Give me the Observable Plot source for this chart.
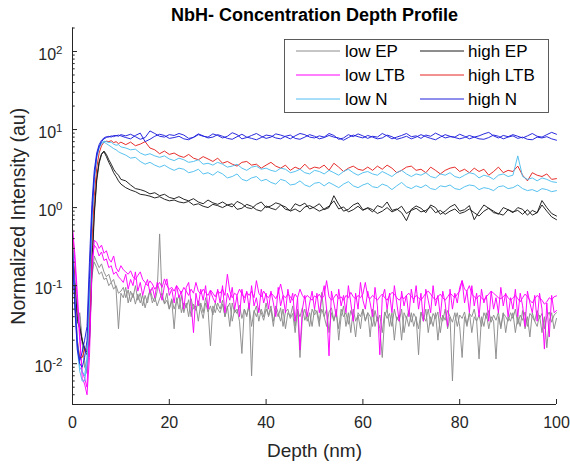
<!DOCTYPE html>
<html><head><meta charset="utf-8">
<script src="https://cdn.jsdelivr.net/npm/d3@7"></script>
<script src="https://cdn.jsdelivr.net/npm/@observablehq/plot@0.6"></script>
<style>html,body{margin:0;padding:0;background:#fff;} #chart svg{display:block;}</style>
</head><body><div id="chart"></div>
<script>
// ---- labels, categories, ticks ----
const titleText = "NbH- Concentration Depth Profile";
const xLabel = "Depth (nm)";
const yLabel = "Normalized Intensity (au)";
const seriesNames = ["low EP", "high EP", "low LTB", "high LTB", "low N", "high N"];
const seriesColors = ["#8c8c8c", "#1a1a1a", "#ff00ff", "#e42320", "#4dbeee", "#1f1fdc"];
const xTicks = [0, 20, 40, 60, 80, 100];
const yTickExps = [-2, -1, 0, 1, 2];
const yDomain = [0.003, 200];

// depth sampling: 0.5 nm everywhere (low series); 0.5 nm to 10 nm then 1 nm (high series)
const depthFine = d3.range(0, 100.25, 0.5);
const depthMixed = d3.range(0, 10.25, 0.5).concat(d3.range(11, 100.5, 1));

// ---- low EP (two profiles, 0.5 nm step) ----
const lowEP_a = [0.32,0.12,0.05,0.04,0.018,0.011,0.0075,0.02,0.12,0.24,0.2,0.17,0.19,0.15,0.13,0.14,0.11,0.12,0.09,0.028,0.08,
0.07,0.095,0.06,0.085,0.07,0.1,0.065,0.08,0.055,0.075,0.06,0.09,0.07,0.062,0.085,0.46,0.07,0.06,0.08,0.05,
0.065,0.028,0.07,0.05,0.075,0.045,0.06,0.04,0.068,0.05,0.055,0.035,0.06,0.045,0.07,0.05,0.017,0.055,0.045,0.06,
0.05,0.065,0.04,0.055,0.03,0.06,0.045,0.05,0.035,0.0135,0.05,0.04,0.06,0.007,0.045,0.055,0.035,0.05,0.04,0.06,
0.04,0.05,0.03,0.055,0.045,0.035,0.05,0.028,0.045,0.04,0.055,0.03,0.05,0.012,0.04,0.05,0.035,0.045,0.03,0.05,
0.045,0.03,0.082,0.04,0.05,0.025,0.045,0.035,0.05,0.02,0.04,0.055,0.03,0.045,0.025,0.05,0.035,0.042,0.028,0.05,
0.035,0.045,0.022,0.05,0.03,0.04,0.028,0.012,0.04,0.05,0.03,0.045,0.02,0.04,0.035,0.05,0.025,0.04,0.03,0.045,
0.03,0.04,0.013,0.045,0.035,0.05,0.025,0.04,0.03,0.045,0.02,0.04,0.035,0.05,0.028,0.04,0.006,0.035,0.045,0.03,
0.012,0.04,0.03,0.045,0.025,0.04,0.035,0.0115,0.04,0.03,0.045,0.028,0.04,0.035,0.0115,0.04,0.03,0.045,0.025,0.04,
0.035,0.045,0.025,0.04,0.03,0.048,0.028,0.04,0.022,0.045,0.035,0.03,0.042,0.025,0.04,0.016,0.035,0.045,0.028,0.038];
const lowEP_b = [0.28,0.09,0.035,0.045,0.02,0.009,0.008,0.03,0.15,0.2,0.17,0.14,0.15,0.12,0.125,0.1,0.11,0.09,0.1,0.08,0.085,
0.095,0.07,0.088,0.062,0.08,0.058,0.078,0.06,0.075,0.052,0.07,0.085,0.06,0.072,0.055,0.068,0.08,0.058,0.065,0.05,
0.068,0.05,0.062,0.075,0.045,0.06,0.052,0.066,0.04,0.058,0.048,0.064,0.05,0.038,0.06,0.046,0.055,0.042,0.06,0.05,
0.045,0.058,0.04,0.052,0.06,0.035,0.05,0.044,0.056,0.038,0.05,0.042,0.055,0.03,0.048,0.04,0.052,0.045,0.036,0.05,
0.042,0.055,0.035,0.048,0.04,0.052,0.03,0.046,0.05,0.038,0.044,0.025,0.048,0.04,0.052,0.036,0.045,0.03,0.05,0.042,
0.048,0.035,0.05,0.04,0.03,0.046,0.052,0.036,0.044,0.028,0.05,0.04,0.045,0.032,0.048,0.038,0.022,0.045,0.04,0.05,
0.036,0.045,0.04,0.03,0.048,0.035,0.042,0.025,0.046,0.038,0.044,0.03,0.05,0.036,0.042,0.02,0.045,0.038,0.048,0.034,
0.044,0.038,0.028,0.046,0.04,0.035,0.05,0.032,0.044,0.038,0.046,0.025,0.042,0.036,0.048,0.04,0.034,0.045,0.03,0.042,
0.038,0.046,0.032,0.044,0.04,0.05,0.035,0.042,0.03,0.045,0.038,0.048,0.034,0.042,0.036,0.046,0.028,0.044,0.04,0.035,
0.045,0.038,0.05,0.032,0.042,0.036,0.046,0.03,0.044,0.04,0.035,0.048,0.038,0.044,0.028,0.04,0.046,0.034,0.042,0.045];

// ---- low LTB (two profiles, 0.5 nm step) ----
const lowLTB_a = [0.55,0.25,0.08,0.025,0.0065,0.0055,0.004,0.012,0.15,0.38,0.36,0.3,0.33,0.26,0.28,0.22,0.2,0.24,0.17,0.15,0.18,
0.16,0.15,0.14,0.155,0.13,0.12,0.135,0.15,0.12,0.11,0.1,0.115,0.105,0.09,0.1,0.11,0.095,0.122,0.1,0.09,
0.095,0.085,0.1,0.09,0.08,0.095,0.085,0.075,0.09,0.08,0.11,0.085,0.078,0.09,0.082,0.075,0.088,0.08,0.072,0.085,
0.08,0.09,0.075,0.14,0.085,0.07,0.08,0.075,0.09,0.078,0.07,0.082,0.075,0.085,0.07,0.116,0.08,0.072,0.085,0.075,
0.07,0.08,0.075,0.068,0.08,0.105,0.075,0.07,0.078,0.072,0.065,0.078,0.07,0.09,0.075,0.068,0.075,0.07,0.065,0.074,
0.07,0.078,0.068,0.075,0.116,0.072,0.065,0.07,0.078,0.068,0.072,0.065,0.075,0.07,0.082,0.072,0.068,0.075,0.07,0.078,
0.11,0.072,0.068,0.075,0.07,0.065,0.072,0.078,0.07,0.065,0.075,0.082,0.078,0.07,0.065,0.072,0.068,0.075,0.08,0.072,
0.068,0.075,0.07,0.065,0.072,0.08,0.085,0.078,0.07,0.066,0.072,0.078,0.07,0.065,0.072,0.08,0.075,0.07,0.078,0.085,
0.116,0.09,0.085,0.1,0.078,0.072,0.068,0.075,0.07,0.065,0.072,0.078,0.085,0.08,0.075,0.07,0.068,0.072,0.078,0.07,
0.065,0.07,0.075,0.068,0.062,0.07,0.078,0.072,0.065,0.06,0.068,0.075,0.07,0.065,0.058,0.062,0.07,0.066,0.072,0.074];
const lowLTB_b = [0.5,0.2,0.06,0.02,0.008,0.0065,0.005,0.03,0.2,0.33,0.3,0.24,0.27,0.21,0.22,0.17,0.18,0.14,0.15,0.13,0.12,
0.11,0.14,0.09,0.12,0.1,0.15,0.085,0.11,0.075,0.1,0.12,0.08,0.095,0.07,0.11,0.085,0.065,0.1,0.122,0.075,
0.09,0.06,0.1,0.07,0.085,0.05,0.095,0.11,0.06,0.025,0.08,0.055,0.09,0.065,0.1,0.05,0.085,0.07,0.06,0.09,
0.06,0.1,0.045,0.08,0.065,0.095,0.05,0.075,0.04,0.09,0.06,0.085,0.05,0.1,0.055,0.07,0.045,0.09,0.06,0.08,
0.05,0.085,0.06,0.04,0.095,0.055,0.075,0.045,0.09,0.06,0.08,0.035,0.07,0.015,0.05,0.075,0.04,0.06,0.085,0.05,
0.08,0.045,0.07,0.1,0.05,0.0126,0.085,0.06,0.04,0.09,0.055,0.075,0.045,0.1,0.06,0.035,0.08,0.05,0.11,0.065,
0.05,0.085,0.06,0.04,0.095,0.055,0.013,0.07,0.09,0.05,0.08,0.045,0.1,0.06,0.035,0.085,0.055,0.075,0.04,0.09,
0.06,0.1,0.05,0.08,0.035,0.09,0.065,0.045,0.1,0.055,0.075,0.04,0.085,0.06,0.03,0.09,0.05,0.08,0.06,0.095,
0.116,0.06,0.085,0.045,0.1,0.055,0.08,0.04,0.09,0.06,0.075,0.035,0.085,0.05,0.07,0.045,0.095,0.055,0.08,0.04,
0.07,0.05,0.09,0.04,0.08,0.055,0.03,0.085,0.06,0.045,0.075,0.035,0.08,0.05,0.0154,0.06,0.022,0.075,0.045,0.048];

// ---- high EP (two profiles, mixed step) ----
const highEP_a = [0.3,0.1,0.04,0.03,0.02,0.016,0.014,0.02,0.2,0.9,2.4,3.9,4.9,5.3,4.8,4.1,3.6,3.1,2.8,2.6,2.3,
2.2,1.95,1.75,1.7,1.62,1.5,1.55,1.42,1.48,1.35,
1.3,1.38,1.28,1.22,1.3,1.18,1.12,1.25,1.15,1.1,
1.18,1.08,1.02,1.2,1.12,1.0,0.97,1.1,1.18,1.0,
1.05,1.15,1.1,0.95,0.92,1.12,1.05,1.14,0.96,1.02,
1.12,0.94,1.0,1.42,1.1,0.9,0.95,1.08,1.15,0.94,
0.98,0.88,1.06,1.0,1.18,0.92,0.96,0.86,0.68,0.95,
1.05,0.98,0.86,1.08,1.0,0.82,0.9,1.02,1.1,0.9,
0.94,1.06,0.7,0.88,1.08,0.98,0.9,0.82,1.0,0.94,
0.86,1.0,0.95,0.8,0.92,0.86,1.23,1.0,0.84,0.78];
const highEP_b = [0.28,0.09,0.035,0.028,0.02,0.015,0.013,0.018,0.15,0.8,2.2,3.7,4.8,5.2,4.5,3.8,3.3,2.8,2.5,2.2,2.0,
1.8,1.68,1.6,1.48,1.45,1.4,1.33,1.38,1.28,1.22,
1.25,1.18,1.15,1.2,1.08,1.12,1.04,1.0,1.1,1.06,
1.0,1.08,1.12,0.95,0.98,1.1,1.04,0.94,0.9,1.05,
0.98,0.94,1.08,1.02,0.9,0.96,0.88,1.02,1.06,0.98,
0.9,0.96,1.04,1.22,0.96,1.02,0.88,0.94,1.04,0.92,
1.0,0.94,0.84,0.9,1.0,0.88,0.94,1.04,0.84,0.92,
0.98,0.88,0.92,1.02,0.86,0.92,0.82,0.9,0.96,0.84,
0.88,0.96,0.86,0.78,0.9,0.98,0.86,0.84,0.8,0.94,
0.88,0.92,0.82,0.94,0.8,0.86,1.08,0.9,0.76,0.7];

// ---- high LTB (one profile, mixed step) ----
const highLTB = [0.4,0.08,0.02,0.012,0.012,0.015,0.015,0.04,0.35,1.4,3.2,5.0,6.2,6.9,7.1,7.0,7.2,6.8,7.0,6.6,6.9,
6.4,6.9,6.2,6.5,7.0,5.8,5.5,4.9,5.3,4.8,
5.0,4.6,4.4,4.8,4.3,4.1,4.5,4.2,3.9,4.3,
3.7,3.9,3.6,3.4,3.8,3.9,3.5,3.6,3.2,3.5,
3.8,3.4,3.2,3.5,3.0,3.3,3.1,3.6,3.1,3.3,
3.2,3.5,3.0,3.7,3.3,2.9,3.2,3.4,3.1,3.0,
3.3,3.0,3.4,3.1,3.5,3.2,2.8,3.0,3.3,3.4,
3.0,3.1,2.8,3.3,3.0,2.7,3.0,3.2,3.3,2.9,
3.1,2.8,3.2,2.9,3.1,2.6,2.9,3.3,2.8,3.0,
2.9,3.4,2.6,2.2,2.8,2.6,2.5,2.7,2.3,2.35];

// ---- low N (two profiles, mixed step) ----
const lowN_a = [0.35,0.07,0.02,0.009,0.008,0.007,0.012,0.08,0.7,2.4,4.5,6.0,6.8,7.1,7.0,6.8,6.9,6.5,6.3,6.4,6.0,
5.8,5.5,5.6,5.0,4.7,4.9,4.6,4.4,4.6,4.2,
4.0,4.3,4.1,3.8,3.9,4.1,3.6,3.7,3.5,3.8,
3.6,3.3,3.4,3.6,3.2,3.0,3.3,3.4,3.1,3.2,
3.0,2.9,3.2,3.1,2.8,2.9,3.1,2.8,2.7,3.0,
2.9,2.7,3.0,2.8,2.6,2.9,3.1,2.8,2.6,2.8,
2.9,2.7,2.6,2.9,2.7,2.5,2.8,3.0,2.7,2.5,
2.7,2.6,2.8,2.5,2.4,2.7,2.6,2.8,2.5,2.4,
2.6,2.8,2.7,2.4,2.6,2.5,2.3,2.6,2.7,2.5,
2.6,4.6,2.5,2.3,2.4,2.2,2.4,2.3,2.15,2.1];
const lowN_b = [0.3,0.06,0.015,0.008,0.006,0.006,0.01,0.06,0.6,2.2,4.3,5.8,6.6,6.9,6.6,6.3,6.0,5.7,5.5,5.2,5.0,
4.7,4.3,4.4,3.9,3.6,3.8,3.5,3.3,3.5,3.2,
3.0,3.2,3.1,2.8,2.9,3.1,2.7,2.8,2.6,2.9,
2.7,2.4,2.5,2.7,2.3,2.2,2.4,2.5,2.2,2.3,
2.1,2.0,2.3,2.2,1.95,2.0,2.2,1.95,1.85,2.05,
2.1,1.9,2.1,1.95,1.8,2.0,2.15,1.9,1.8,1.95,
2.05,1.85,1.8,2.0,1.9,1.7,1.9,2.1,1.85,1.75,
1.9,1.8,1.95,1.75,1.7,1.9,1.85,1.95,1.75,1.7,
1.85,1.95,1.9,1.7,1.8,1.75,1.65,1.85,1.9,1.75,
1.8,1.95,1.75,1.65,1.7,1.6,1.75,1.7,1.6,1.65];

// ---- high N (two profiles, mixed step) ----
const highN_a = [0.3,0.06,0.018,0.011,0.014,0.02,0.03,0.2,1.1,3.0,5.0,6.4,7.3,7.8,8.1,8.0,8.3,8.1,8.4,8.2,8.6,
8.3,8.7,8.1,7.5,7.9,9.6,8.9,8.2,8.0,8.6,
8.4,8.9,8.5,7.7,7.9,8.6,8.2,8.0,8.8,8.4,
7.8,8.2,9.1,8.6,7.6,7.9,8.4,8.9,8.2,7.7,
8.0,8.8,8.5,8.1,7.6,8.3,8.9,8.6,8.0,7.8,
8.3,8.0,8.9,8.4,7.5,7.8,8.6,8.1,8.8,8.3,
7.7,8.2,8.0,8.9,8.3,7.6,8.0,8.4,8.9,8.1,
8.3,7.7,8.5,8.2,9.0,8.4,7.8,8.1,8.0,8.7,
8.2,7.6,8.0,8.3,8.8,9.2,8.3,7.8,8.4,8.1,
8.6,8.2,7.8,8.3,8.9,8.2,8.0,8.6,9.2,8.7];
const highN_b = [0.25,0.05,0.015,0.01,0.009,0.012,0.02,0.12,0.8,2.5,4.6,6.0,7.0,7.6,7.9,8.2,8.0,8.4,8.3,8.5,8.3,
7.9,7.6,8.4,9.0,7.0,7.5,8.2,8.7,8.4,7.7,
7.9,8.2,7.6,7.4,8.0,8.8,8.3,7.8,8.0,8.6,
8.2,7.7,7.5,8.1,8.7,8.0,7.7,7.4,7.9,8.5,
8.3,7.8,7.6,8.2,8.5,7.7,7.5,8.0,8.6,8.2,
7.6,7.9,8.4,8.0,7.8,7.3,7.9,8.5,8.1,7.8,
8.4,8.0,7.6,7.8,8.5,8.1,7.5,7.8,8.2,7.6,
8.0,8.6,8.1,7.7,7.4,8.0,8.6,8.2,7.9,7.6,
7.9,8.4,8.0,7.6,7.5,7.9,8.5,8.2,7.6,8.0,
8.3,7.7,8.0,7.5,7.4,8.0,7.8,8.1,7.6,7.3];

// ---- traces: [legend index, depth grid, values] in drawing order ----
const traces = [
  [0, depthFine, lowEP_a], [0, depthFine, lowEP_b],
  [1, depthMixed, highEP_a], [1, depthMixed, highEP_b],
  [2, depthFine, lowLTB_a], [2, depthFine, lowLTB_b],
  [3, depthMixed, highLTB],
  [4, depthMixed, lowN_a], [4, depthMixed, lowN_b],
  [5, depthMixed, highN_a], [5, depthMixed, highN_b]
];

const W = 570, H = 466;
const mL = 72, mR = 14, mT = 27.5, mB = 62;
const plotW = W - mL - mR, plotH = H - mT - mB;
const axisColor = "#262626";
const font = "'Liberation Sans', Arial, Helvetica, sans-serif";

const yMajors = yTickExps.map(e => Math.pow(10, e));
const yMinors = [];
for (let e = -3; e <= 2; e++) for (let m = 2; m <= 9; m++) {
  const v = m * Math.pow(10, e);
  if (v >= yDomain[0] - 1e-12 && v <= yDomain[1] + 1e-9) yMinors.push(v);
}

const lineMarks = traces.map(([k, depth, vals]) =>
  Plot.line(depth.map((d, i) => ({depth: d, value: vals[i]})).filter(p => p.value != null),
    {x: "depth", y: "value", stroke: seriesColors[k], strokeWidth: 0.95, curve: "linear"}));

const chart = Plot.plot({
  width: W, height: H,
  marginLeft: mL, marginRight: mR, marginTop: mT, marginBottom: mB,
  x: {domain: [0, 100], axis: null},
  y: {type: "log", domain: yDomain, axis: null},
  style: {fontFamily: font, background: "white", color: axisColor, overflow: "visible"},
  marks: [
    ...lineMarks,
    Plot.ruleX([0], {stroke: axisColor, strokeWidth: 1}),
    Plot.ruleY([yDomain[0]], {stroke: axisColor, strokeWidth: 1}),
    Plot.tickX(xTicks, {x: d => d, insetTop: plotH - 5, stroke: axisColor}),
    Plot.tickY(yMajors, {y: d => d, insetRight: plotW - 5, stroke: axisColor}),
    Plot.tickY(yMinors, {y: d => d, insetRight: plotW - 2.7, stroke: axisColor}),
    Plot.text(xTicks, {x: d => d, frameAnchor: "bottom", lineAnchor: "middle", dy: 18, text: d => String(d), fontSize: 16, fill: axisColor}),
    Plot.text(yTickExps, {y: d => Math.pow(10, d), frameAnchor: "left", dx: -10, dy: 3.5, textAnchor: "end", text: d => "10^" + d, fontSize: 16, fill: axisColor}),
    Plot.text([xLabel], {frameAnchor: "bottom", lineAnchor: "middle", dy: 46, fontSize: 19, fill: axisColor}),
    Plot.text([yLabel], {frameAnchor: "left", textAnchor: "middle", lineAnchor: "middle", dx: -54, rotate: -90, fontSize: 19.5, fill: axisColor}),
    Plot.text([titleText], {frameAnchor: "top", lineAnchor: "middle", dy: -13, fontSize: 18, fontWeight: "bold", fill: "#000"})
  ]
});

// superscript exponents on the log tick labels
d3.select(chart).selectAll("text").each(function () {
  const t = this.textContent;
  const m = /^10\^(-?\d+)$/.exec(t);
  if (!m) return;
  const sel = d3.select(this);
  sel.text(null);
  sel.append("tspan").text("10");
  sel.append("tspan").attr("dy", "-6.5").attr("font-size", 11.5).text(m[1]);
});

// legend (box with 2 columns x 3 rows)
const svg = d3.select(chart);
const lg = svg.append("g").attr("font-family", font).attr("font-size", 17).attr("text-anchor", "start");
lg.append("rect").attr("x", 284.5).attr("y", 39.5).attr("width", 264).attr("height", 73)
  .attr("fill", "white").attr("stroke", "#4a4a4a").attr("stroke-width", 0.9);
const rowsY = [51, 75, 99];
const cols = [{x1: 296, x2: 340, tx: 345}, {x1: 420, x2: 464, tx: 468}];
seriesNames.forEach((name, i) => {
  const r = Math.floor(i / 2), c = cols[i % 2], y = rowsY[r];
  lg.append("line").attr("x1", c.x1).attr("x2", c.x2).attr("y1", y).attr("y2", y)
    .attr("stroke", seriesColors[i]).attr("stroke-width", 1);
  lg.append("text").attr("x", c.tx).attr("y", y + 6).attr("text-anchor", "start").attr("fill", "#000").text(name);
});

document.getElementById("chart").appendChild(chart);
</script>
</body></html>
